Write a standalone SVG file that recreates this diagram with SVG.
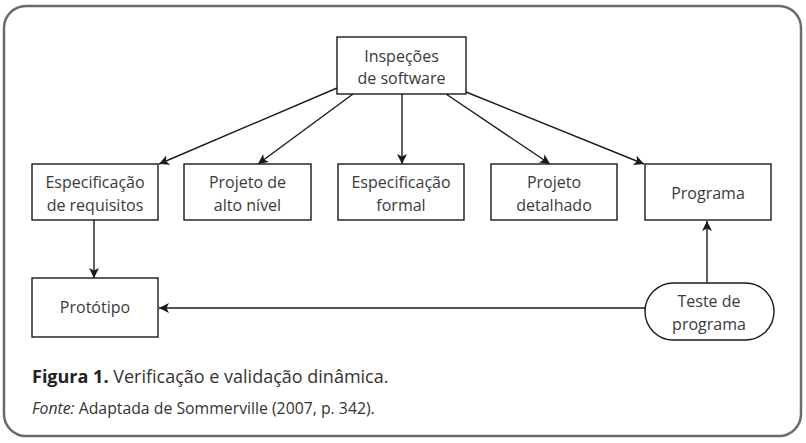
<svg xmlns="http://www.w3.org/2000/svg" width="806" height="443" viewBox="0 0 806 443">
<defs>
<marker id="ah" viewBox="0 0 10 10" refX="10" refY="5" markerWidth="11" markerHeight="10" markerUnits="userSpaceOnUse" orient="auto">
<path d="M0,0 L10,5 L0,10 L2.5,5 z" fill="#1a1a1a"/>
</marker>
</defs>
<style>
.box{fill:#fff;stroke:#1a1a1a;stroke-width:1.4}
.t{font-family:"Open Sans","Noto Sans",sans-serif;font-size:16px;fill:#3a3a3a;text-anchor:middle}
.c{stroke:#1a1a1a;stroke-width:1.4;fill:none;marker-end:url(#ah)}
.cap{font-family:"Open Sans","Noto Sans",sans-serif;fill:#333}
</style>
<rect x="4" y="6" width="797" height="430" rx="22" fill="#fff" stroke="#6b6b6b" stroke-width="2.5"/>
<g id="connectors">
<line class="c" x1="337" y1="88" x2="159" y2="164"/>
<line class="c" x1="353" y1="94" x2="258" y2="164"/>
<line class="c" x1="402" y1="94" x2="402" y2="164"/>
<line class="c" x1="446" y1="94" x2="550" y2="164"/>
<line class="c" x1="466" y1="92" x2="644" y2="164"/>
<line class="c" x1="94" y1="220" x2="94" y2="278"/>
<line class="c" x1="645" y1="308" x2="159" y2="308"/>
<line class="c" x1="707" y1="283" x2="707" y2="221"/>
</g>
<g id="inspecoes">
<rect class="box" x="337" y="37" width="129" height="57"/>
<text class="t" x="401.5" y="62">Inspeções</text>
<text class="t" x="401.5" y="84">de software</text>
</g>
<g id="esp-req">
<rect class="box" x="32" y="164" width="126" height="56"/>
<text class="t" x="95" y="188">Especificação</text>
<text class="t" x="95" y="211">de requisitos</text>
</g>
<g id="proj-alto">
<rect class="box" x="184" y="164" width="127" height="56"/>
<text class="t" x="247.5" y="188">Projeto de</text>
<text class="t" x="247.5" y="211">alto nível</text>
</g>
<g id="esp-formal">
<rect class="box" x="338" y="164" width="126" height="56"/>
<text class="t" x="401" y="188">Especificação</text>
<text class="t" x="401" y="211">formal</text>
</g>
<g id="proj-det">
<rect class="box" x="491" y="164" width="126" height="56"/>
<text class="t" x="554" y="188">Projeto</text>
<text class="t" x="554" y="211">detalhado</text>
</g>
<g id="programa">
<rect class="box" x="645" y="164" width="126" height="56"/>
<text class="t" x="708" y="199">Programa</text>
</g>
<g id="prototipo">
<rect class="box" x="32" y="278" width="126" height="59"/>
<text class="t" x="95" y="313">Protótipo</text>
</g>
<g id="teste">
<rect class="box" x="645" y="283" width="129" height="57" rx="28.5"/>
<text class="t" x="709" y="307">Teste de</text>
<text class="t" x="709" y="330">programa</text>
</g>
<g id="caption">
<text class="cap" x="32" y="383" font-size="18"><tspan font-weight="bold" fill="#222">Figura 1.</tspan> Verificação e validação dinâmica.</text>
<text class="cap" x="32" y="414" font-size="15.8"><tspan font-style="italic">Fonte:</tspan> Adaptada de Sommerville (2007, p. 342).</text>
</g>
</svg>
